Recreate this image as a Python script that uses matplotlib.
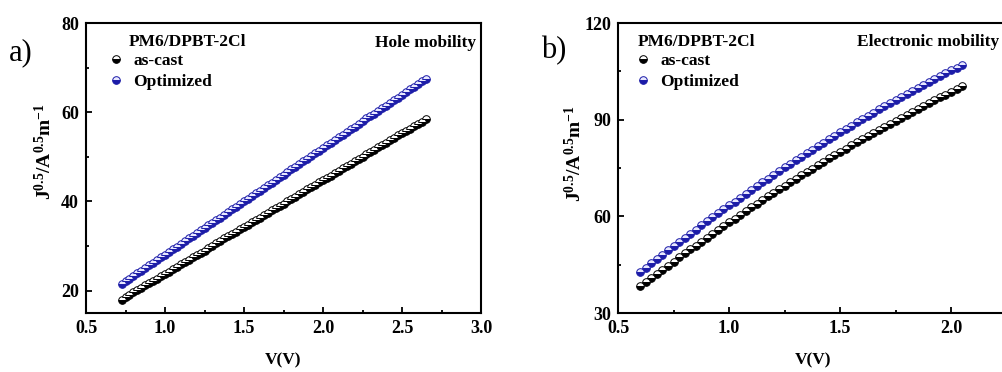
import numpy as np
import matplotlib
matplotlib.use('Agg')
import matplotlib.pyplot as plt
from matplotlib.ticker import MultipleLocator, FixedLocator
from matplotlib.transforms import IdentityTransform

plt.rcParams['font.family'] = ['Liberation Serif', 'DejaVu Serif']
plt.rcParams['mathtext.fontset'] = 'custom'
plt.rcParams['mathtext.rm'] = 'Liberation Serif'
plt.rcParams['mathtext.bf'] = 'Liberation Serif:bold'

# a) hole-only device
v_hole = [0.725,0.750,0.775,0.800,0.825,0.850,0.875,0.900,0.925,0.950,
          0.975,1.000,1.025,1.050,1.075,1.100,1.125,1.150,1.175,1.200,
          1.225,1.250,1.275,1.300,1.325,1.350,1.375,1.400,1.425,1.450,
          1.475,1.500,1.525,1.550,1.575,1.600,1.625,1.650,1.675,1.700,
          1.725,1.750,1.775,1.800,1.825,1.850,1.875,1.900,1.925,1.950,
          1.975,2.000,2.025,2.050,2.075,2.100,2.125,2.150,2.175,2.200,
          2.225,2.250,2.275,2.300,2.325,2.350,2.375,2.400,2.425,2.450,
          2.475,2.500,2.525,2.550,2.575,2.600,2.625,2.650]
hole_ascast = [18.0,18.5,19.1,19.6,20.1,20.6,21.2,21.7,22.2,22.7,
               23.3,23.8,24.3,24.8,25.4,25.9,26.4,26.9,27.5,28.0,
               28.5,29.0,29.6,30.1,30.6,31.1,31.7,32.2,32.7,33.2,
               33.8,34.3,34.8,35.3,35.9,36.4,36.9,37.4,38.0,38.5,
               39.0,39.5,40.1,40.6,41.1,41.6,42.2,42.7,43.2,43.7,
               44.3,44.8,45.3,45.8,46.4,46.9,47.4,47.9,48.5,49.0,
               49.5,50.0,50.6,51.1,51.6,52.1,52.7,53.2,53.7,54.2,
               54.8,55.3,55.8,56.3,56.9,57.4,57.9,58.4]
hole_opt = [21.5,22.1,22.7,23.3,23.9,24.5,25.1,25.7,26.3,26.9,
            27.5,28.1,28.7,29.3,29.9,30.5,31.1,31.7,32.3,32.9,
            33.5,34.1,34.7,35.2,35.8,36.4,37.0,37.6,38.2,38.8,
            39.4,40.0,40.6,41.2,41.8,42.4,43.0,43.6,44.2,44.8,
            45.4,46.0,46.6,47.2,47.8,48.4,49.0,49.6,50.2,50.8,
            51.4,52.0,52.6,53.2,53.8,54.4,55.0,55.6,56.2,56.8,
            57.4,58.0,58.6,59.1,59.7,60.3,60.9,61.5,62.1,62.7,
            63.3,63.9,64.5,65.1,65.7,66.3,66.9,67.5]

# b) electron-only device
v_elec = [0.600,0.625,0.650,0.675,0.700,0.725,0.750,0.775,0.800,0.825,
          0.850,0.875,0.900,0.925,0.950,0.975,1.000,1.025,1.050,1.075,
          1.100,1.125,1.150,1.175,1.200,1.225,1.250,1.275,1.300,1.325,
          1.350,1.375,1.400,1.425,1.450,1.475,1.500,1.525,1.550,1.575,
          1.600,1.625,1.650,1.675,1.700,1.725,1.750,1.775,1.800,1.825,
          1.850,1.875,1.900,1.925,1.950,1.975,2.000,2.025,2.050]
elec_ascast = [38.30,39.60,40.89,42.18,43.45,44.72,45.98,47.23,48.48,49.71,
               50.94,52.16,53.37,54.57,55.77,56.96,58.13,59.30,60.47,61.62,
               62.77,63.91,65.04,66.16,67.27,68.38,69.47,70.56,71.64,72.72,
               73.78,74.84,75.89,76.93,77.96,78.98,80.00,81.01,82.01,83.00,
               83.98,84.96,85.93,86.89,87.84,88.78,89.72,90.64,91.56,92.47,
               93.37,94.27,95.15,96.03,96.90,97.76,98.62,99.46,100.30]
elec_opt = [42.70,44.06,45.41,46.75,48.08,49.40,50.72,52.02,53.32,54.61,
            55.89,57.16,58.42,59.67,60.91,62.15,63.38,64.59,65.80,67.00,
            68.20,69.38,70.55,71.72,72.87,74.02,75.16,76.29,77.41,78.53,
            79.63,80.73,81.81,82.89,83.96,85.02,86.07,87.11,88.15,89.17,
            90.19,91.20,92.20,93.19,94.17,95.14,96.11,97.06,98.01,98.95,
            99.88,100.80,101.71,102.61,103.50,104.39,105.27,106.13,106.99]

legend_title = 'PM6/DPBT-2Cl'
labels = ['as-cast', 'Optimized']
ylab = r'$\mathbf{J^{0.5}/A^{0.5}m^{-1}}$'

BLUE = '#1c1ca8'
FS = 12.5
H = 372


def style_axes(ax, xticks, xminor, ymaj):
    ax.xaxis.set_major_locator(FixedLocator(xticks))
    ax.xaxis.set_minor_locator(FixedLocator(xminor))
    ax.yaxis.set_major_locator(MultipleLocator(ymaj))
    ax.yaxis.set_minor_locator(MultipleLocator(ymaj / 2))
    ax.tick_params(which='both', direction='in', top=False, right=False,
                   width=1.3, labelsize=13)
    ax.tick_params(which='major', length=4, pad=5)
    ax.tick_params(which='minor', length=2.5)
    for s in ax.spines.values():
        s.set_linewidth(1.5)
    for t in ax.get_xticklabels() + ax.get_yticklabels():
        t.set_fontweight('bold')


def draw(ax, v, y1, y2, title_x, leg_x):
    ax.plot(v, y1, 'o', ms=5.5, mfc='black', mfcalt='white', mec='black',
            mew=0.7, fillstyle='bottom', label=labels[0])
    ax.plot(v, y2, 'o', ms=5.5, mfc=BLUE, mfcalt='#e8e8ff', mec=BLUE,
            mew=0.7, fillstyle='bottom', label=labels[1])
    fig.text(title_x / 1002, 1 - 42 / H, legend_title, fontsize=FS,
             fontweight='bold', ha='left', va='center')
    # pixel placement of the legend block (figure saved at dpi 100)
    ax.legend(loc='upper left', bbox_to_anchor=(leg_x, H - 53),
              bbox_transform=IdentityTransform(), frameon=False, numpoints=1,
              handlelength=1.0, handletextpad=0.5, labelspacing=0.25,
              borderaxespad=0, borderpad=0, prop={'weight': 'bold', 'size': FS})


fig = plt.figure(figsize=(10.02, 3.72), dpi=100)

# panel a
ax1 = fig.add_axes([86 / 1002, 1 - 313 / H, 395 / 1002, 290 / H])
draw(ax1, v_hole, hole_ascast, hole_opt, 129, 107)
ax1.set_xlim(0.5, 3.0)
ax1.set_ylim(15, 80)
style_axes(ax1, [0.5, 1.0, 1.5, 2.0, 2.5, 3.0], [0.75, 1.25, 1.75, 2.25, 2.75], 20)
ax1.set_xlabel('V(V)', fontsize=FS, fontweight='bold')
ax1.xaxis.set_label_coords(0.5, -0.135)
ax1.set_ylabel(ylab, fontsize=14)
ax1.yaxis.set_label_coords(-0.078, 0.555)
fig.text(476 / 1002, 1 - 43 / H, 'Hole mobility', ha='right', va='center',
         fontsize=FS, fontweight='bold')
fig.text(9 / 1002, 1 - 53 / H, 'a)', fontsize=22, va='center', ha='left')

# panel b (runs past the right edge of the figure)
ax2 = fig.add_axes([618 / 1002, 1 - 313 / H, 444 / 1002, 290 / H])
draw(ax2, v_elec, elec_ascast, elec_opt, 638, 634)
ax2.set_xlim(0.5, 2.5)
ax2.set_ylim(30, 120)
style_axes(ax2, [0.5, 1.0, 1.5, 2.0], [0.75, 1.25, 1.75, 2.25], 30)
ax2.set_xlabel('V(V)', fontsize=FS, fontweight='bold')
ax2.xaxis.set_label_coords(0.44, -0.135)
ax2.set_ylabel(ylab, fontsize=14)
ax2.yaxis.set_label_coords(-0.073, 0.55)
fig.text(999 / 1002, 1 - 42 / H, 'Electronic mobility', ha='right', va='center',
         fontsize=FS, fontweight='bold')
fig.text(541 / 1002, 1 - 51 / H, 'b)', fontsize=22, va='center', ha='left')

fig.savefig('out.png', dpi=100)
